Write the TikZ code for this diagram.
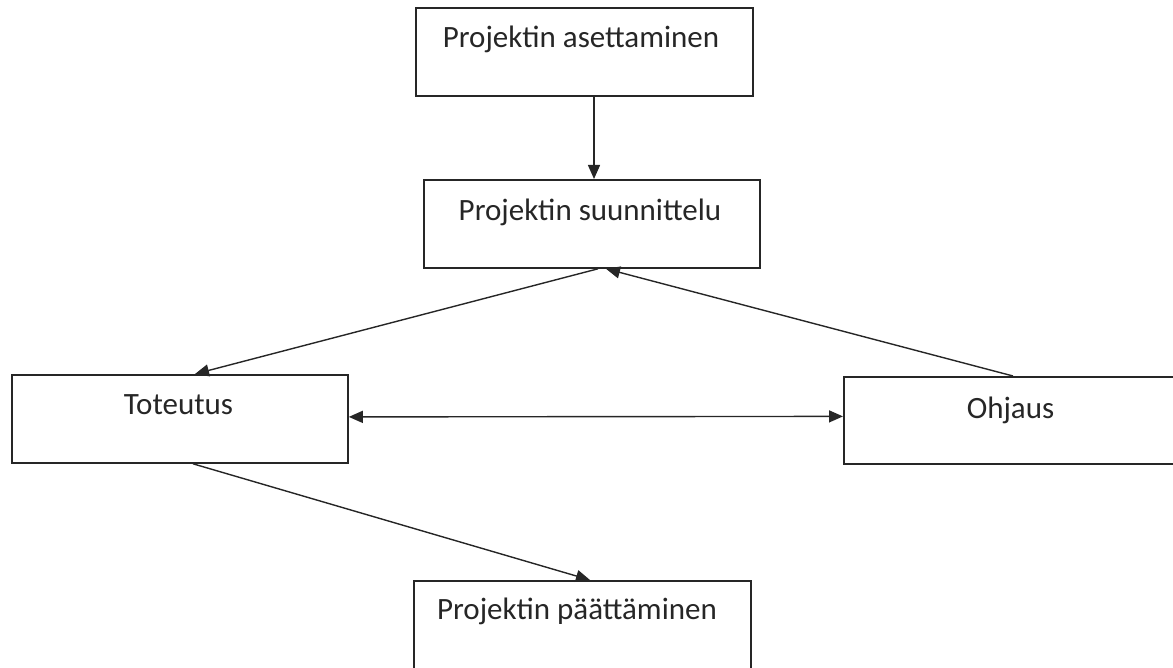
\documentclass[tikz,border=0pt]{standalone}
\usepackage{fontspec}
\setmainfont{Carlito}
\usetikzlibrary{arrows.meta,calc}
\newcommand{\lblfont}{\fontsize{31pt}{37pt}\selectfont}
\begin{document}
\begin{tikzpicture}[x=1pt,y=-1pt,
  box/.style={draw=black!85,line width=1.8pt,rectangle,inner sep=0pt,anchor=north west},
  lbl/.style={inner sep=0pt,text=black!85,anchor=base},
  conn/.style={draw=black!85,line width=1.4pt,-{Triangle[length=14pt,width=12pt]}},
  conn2/.style={draw=black!85,line width=1.4pt,{Triangle[length=14pt,width=12pt]}-{Triangle[length=14pt,width=12pt]}}]
\useasboundingbox (0,0) rectangle (1173,668);
\node[box,minimum width=337pt,minimum height=88pt] (b1) at (415,7) {};
\node[box,minimum width=336pt,minimum height=88pt] (b2) at (423,179) {};
\node[box,minimum width=336pt,minimum height=88pt] (b3) at (11,374) {};
\node[box,minimum width=330pt,minimum height=87pt] (b4) at (843,376) {};
\node[box,minimum width=337pt,minimum height=90pt] (b5) at (413,580) {};
\node[lbl] (t1) at (581,48) {\lblfont Projektin asettaminen};
\node[lbl] (t2) at (590,221) {\lblfont Projektin suunnittelu};
\node[lbl] (t3) at (178.5,414) {\lblfont Toteutus};
\node[lbl] (t4) at (1010.5,418) {\lblfont Ohjaus};
\node[lbl] (t5) at (577,619) {\lblfont Projektin päättäminen};
\coordinate (p1) at ([xshift=179pt]b1.south west);
\coordinate (p2) at ([xshift=171pt]b2.north west);
\coordinate (p3) at ([xshift=175pt]b2.south west);
\coordinate (p3b) at ([xshift=183pt]b2.south west);
\coordinate (p4) at ([xshift=184pt]b3.north west);
\coordinate (p5) at ([xshift=170pt]b4.north west);
\coordinate (p6) at ([xshift=182pt]b3.south west);
\coordinate (p7) at ([xshift=177pt]b5.north west);
\coordinate (h1) at ([yshift=2pt]b3.east);
\coordinate (h2) at ([yshift=4pt]b4.west);
\draw[conn] (p1) -- (p2);
\draw[conn] (p3) -- (p4);
\draw[conn] (p5) -- (p3b);
\draw[conn2] (h1) -- (h2);
\draw[conn] (p6) -- (p7);
\end{tikzpicture}
\end{document}
